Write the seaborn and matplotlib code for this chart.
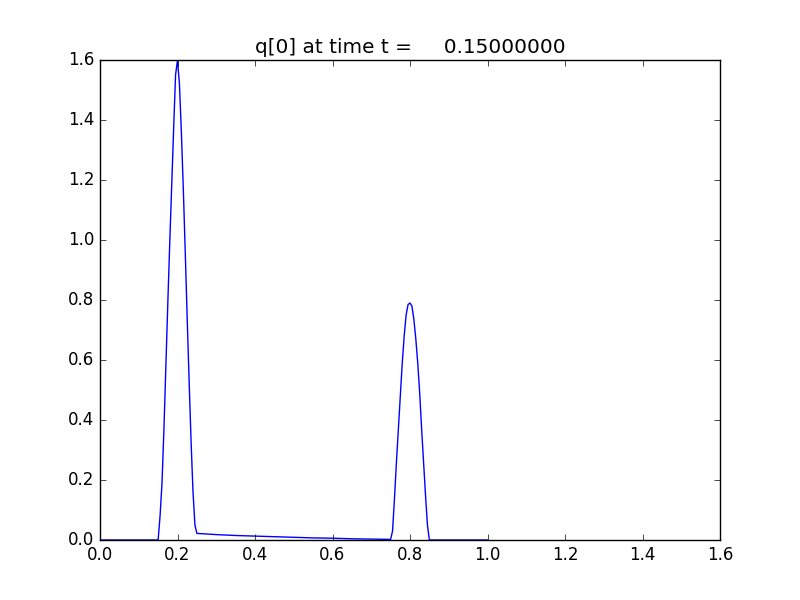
import numpy as np
import matplotlib
matplotlib.use("Agg")
import matplotlib.pyplot as plt
import seaborn as sns

# q[0] at t = 0.15
x_vals = [
    0.0, 0.05, 0.10, 0.15,
    0.155, 0.16, 0.165, 0.17, 0.175, 0.18, 0.185, 0.19, 0.195, 0.20,
    0.205, 0.21, 0.215, 0.22, 0.225, 0.23, 0.235, 0.24, 0.245, 0.25,
    0.30, 0.35, 0.40, 0.45, 0.50, 0.55, 0.60, 0.65, 0.70, 0.75,
    0.755, 0.76, 0.765, 0.77, 0.775, 0.78, 0.785, 0.79, 0.795, 0.80,
    0.805, 0.81, 0.815, 0.82, 0.825, 0.83, 0.835, 0.84, 0.845, 0.85,
    0.90, 0.95, 1.0,
]
q_vals = [
    0.0, 0.0, 0.0, 0.0,
    0.08, 0.19, 0.37, 0.58, 0.79, 0.99, 1.18, 1.37, 1.55, 1.60,
    1.52, 1.36, 1.17, 0.96, 0.74, 0.53, 0.33, 0.16, 0.05, 0.022,
    0.018, 0.015, 0.013, 0.011, 0.009, 0.007, 0.006, 0.004, 0.003, 0.002,
    0.03, 0.14, 0.26, 0.37, 0.48, 0.59, 0.68, 0.75, 0.785, 0.79,
    0.78, 0.735, 0.67, 0.59, 0.49, 0.37, 0.26, 0.15, 0.05, 0.0,
    0.0, 0.0, 0.0,
]
t_final = 0.15

plt.style.use("classic")
fig, ax = plt.subplots(figsize=(8, 6), dpi=100)
fig.patch.set_facecolor("white")

sns.lineplot(x=np.array(x_vals), y=np.array(q_vals), ax=ax, color="b",
             linewidth=1.0, sort=False, estimator=None)

ax.set_xlim(0.0, 1.6)
ax.set_ylim(0.0, 1.6)
ax.set_title("q[0] at time t = %14.8f" % t_final, fontsize=14.4)

fig.savefig("out.png", dpi=100, facecolor="white")
